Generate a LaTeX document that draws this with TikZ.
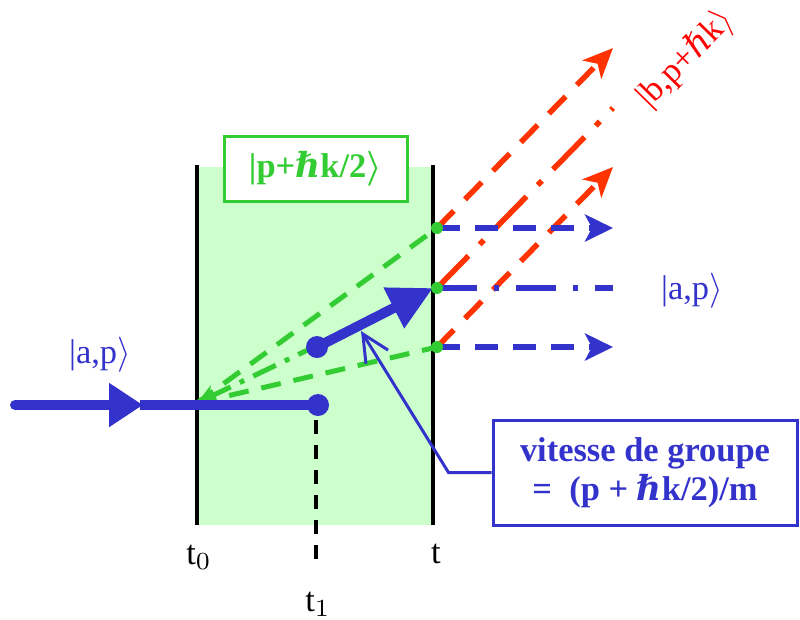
\documentclass[tikz,border=0pt]{standalone}
\usepackage{fontspec}
\setmainfont{Liberation Serif}
\newfontfamily\hbarfont{DejaVu Serif}
\newcommand{\hb}{{\hbarfont\itshape ℏ}}
\usetikzlibrary{arrows.meta}
\definecolor{wblue}{RGB}{51,51,204}
\definecolor{wgreen}{RGB}{51,204,51}
\definecolor{zonegreen}{RGB}{204,255,204}
\definecolor{wred}{RGB}{255,51,0}

\begin{document}
\begin{tikzpicture}[x=0.1mm, y=-0.1mm, font=\fontsize{9.8}{12}\selectfont,
	greenpath/.style={color=wgreen, line width=0.5mm, dash pattern=on 2mm off 1.3mm},
	redpath/.style={color=wred, line width=0.55mm, dash pattern=on 2.4mm off 1.6mm, -{Stealth[length=3mm,width=2.6mm,inset=0.8mm]}},
	bluepath/.style={color=wblue, line width=0.65mm, dash pattern=on 2.3mm off 1.5mm, -{Stealth[length=2.8mm,width=2.7mm,inset=0.7mm]}}]
	\useasboundingbox (0,0) rectangle (800,619);
	% interaction zone between t0 and t
	\fill[zonegreen] (197,167) rectangle (433,525);
	\draw[line width=0.35mm] (197,165) -- (197,525);
	\draw[line width=0.35mm] (433,165) -- (433,525);
	\draw[line width=0.35mm, dash pattern=on 1.4mm off 1.1mm] (316,420) -- (316,566);
	\node at (199,557) {t$_0$};
	\node at (436,554) {t};
	\node at (318,604) {t$_1$};
	\coordinate (src) at (197,403);
	\coordinate (upper) at (437,228);
	\coordinate (middle) at (437,288);
	\coordinate (lower) at (437,347);
	\coordinate (stop) at (318,405);
	\coordinate (start) at (317,347);
	% outgoing states
	\draw[redpath] (lower) -- ++(176,-180);
	\draw[redpath] (upper) -- ++(176,-180);
	\draw[color=wred, line width=0.55mm, dash pattern=on 4.5mm off 1.6mm on 0.6mm off 1.6mm] (middle) -- ++(176,-180);
	\draw[bluepath] (upper) -- ++(176,0);
	\draw[bluepath] (lower) -- ++(176,0);
	\draw[color=wblue, line width=0.65mm, dash pattern=on 4mm off 1.7mm on 0.5mm off 1.7mm] (middle) -- ++(176,0);
	\node[text=red, rotate=45.6] (bstate) at (686,59) {|b,p+\hb k$\rangle$};
	\node[text=wblue] (astate) at (692,291) {|a,p$\rangle$};
	% green paths inside the zone
	\draw[greenpath] (src) -- (upper);
	\draw[greenpath] (src) -- (lower);
	\draw[color=wgreen, line width=0.5mm, dash pattern=on 2.5mm off 1mm on 0.5mm off 1mm, {Stealth[length=2mm,width=2mm]}-] (src) -- (middle);
	% incoming packet
	\draw[color=wblue, line width=1mm, line cap=round, -{Triangle[length=3.4mm,width=4.2mm]}] (15,405) -- (143,405);
	\draw[color=wblue, line width=1mm] (140,405) -- (stop);
	\fill[wblue] (stop) circle (1.1mm);
	\node[text=wblue] (instate) at (100,355) {|a,p$\rangle$};
	\draw[color=wblue, line width=1mm, -{Triangle[length=4.4mm,width=4.3mm]}] (start) -- (433,288);
	\fill[wblue] (start) circle (1.1mm);
	\foreach \p in {upper,middle,lower}
		\fill[wgreen] (\p) circle (0.6mm);
	\node[draw=wgreen, line width=0.3mm, fill=white, text=wgreen, minimum width=18.3mm, minimum height=6.5mm, font=\fontsize{9.8}{12}\selectfont\bfseries\boldmath] (mid state) at (315.5,168.5) {|p+\hb k/2$\rangle$};
	% group velocity callout
	\node[draw=wblue, line width=0.3mm, text=wblue, minimum width=30.4mm, minimum height=10.5mm, align=center, font=\fontsize{9.8}{11}\selectfont\bfseries\boldmath] (vgroup) at (645,472.5) {vitesse de groupe\\=~~(p + \hb k/2)/m};
	\coordinate (vtip) at (361,331);
	\draw[color=wblue, line width=0.3mm, -{Straight Barb[length=2.7mm,width=2.6mm]}] (vgroup.west) -- ++(-43,0) -- (vtip);
\end{tikzpicture}
\end{document}
